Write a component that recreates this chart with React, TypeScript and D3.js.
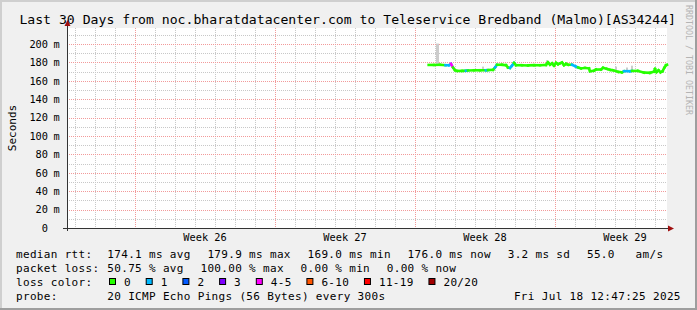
import React from 'react';
import * as d3 from 'd3';

const W = 697;
const H = 310;
const TITLE = 'Last 30 Days from noc.bharatdatacenter.com to Teleservice Bredband (Malmo)[AS34244]';
const Y_LABEL = 'Seconds';
const WATERMARK = 'RRDTOOL / TOBI OETIKER';

const yTicks = [0, 20, 40, 60, 80, 100, 120, 140, 160, 180, 200];
const yMinor = [10, 30, 50, 70, 90, 110, 130, 150, 170, 190, 210];
const Y_MAX = 217.4;

const START = Date.UTC(2025, 5, 19, 14, 24);
const END = START + 30 * 864e5;
const DATA_BASE = Date.UTC(2025, 6, 7, 0, 0);

// hours since 2025-07-07 00:00 UTC
const hours = [16.4, 22.8, 30.0, 36.6, 40.8, 43.2, 45.6, 48.0, 50.4, 56.4, 61.2, 63.6, 70.8, 78.0, 85.2, 87.6, 93.6, 96.0, 98.4, 104.4,
  109.2, 111.6, 114.0, 116.4, 118.8, 121.2, 128.4, 135.6, 142.8, 150.0, 157.2, 159.6, 162.0, 164.4, 166.8, 169.2, 171.6, 174.0, 176.4, 178.8,
  181.2, 183.6, 188.4, 193.2, 195.6, 199.2, 204.0, 208.8, 210.0, 214.8, 217.2, 223.2, 225.6, 230.4, 234.0, 237.6, 243.6, 248.4, 250.8, 258.0,
  260.4, 267.6, 274.8, 282.0, 286.8, 288.0, 289.8, 292.2, 294.6, 297.0, 299.4, 301.2, 302.4];
// median rtt, ms
const median = [177.8, 177.8, 178.0, 177.5, 177.5, 179.0, 175.0, 172.0, 171.3, 171.3, 171.5, 171.8, 172.0, 172.0, 172.0, 172.2, 172.5, 175.0, 178.0, 178.0,
  177.5, 175.0, 174.5, 177.0, 180.0, 177.5, 177.5, 177.3, 177.5, 177.5, 177.8, 180.5, 178.0, 179.5, 177.0, 180.0, 178.5, 179.5, 180.5, 177.5,
  179.0, 178.0, 178.0, 176.0, 175.0, 174.0, 174.5, 174.0, 171.0, 171.5, 172.8, 172.8, 174.6, 173.5, 172.5, 172.0, 170.3, 169.8, 171.0, 171.0,
  171.3, 171.3, 169.5, 169.2, 170.5, 173.5, 170.0, 172.0, 169.8, 171.0, 175.0, 177.5, 178.0];
// loss colour class per point
const loss = [0, 0, 0, 1, 1, 4, 0, 0, 0, 0, 1, 0, 0, 0, 1, 0, 0, 1, 0, 0,
  0, 0, 1, 1, 0, 0, 0, 0, 0, 0, 0, 0, 0, 0, 0, 0, 0, 0, 0, 0,
  0, 0, 1, 1, 0, 0, 0, 0, 0, 0, 0, 0, 0, 0, 0, 0, 0, 0, 1, 1,
  0, 0, 0, 0, 0, 0, 0, 0, 0, 0, 0, 0, 0];

// smoke (ping spread)
const smokeStart = [25.2, 80.4, 157.2, 240.0, 253.2, 259.2];
const smokeEnd = [28.8, 82.8, 159.6, 242.4, 255.6, 261.6];
const smokeLo = [178.0, 173.5, 178.0, 171.0, 171.5, 172.5];
const smokeHi = [201.0, 176.0, 183.0, 176.0, 175.0, 177.0];

const lossLabels = ['0', '1', '2', '3', '4-5', '6-10', '11-19', '20/20'];
const lossColors = ['#26ff00', '#00b8ff', '#0059ff', '#7e00ff', '#ff00ff', '#ff5500', '#ff0000', '#a10000'];

const rttItems = ['174.1 ms avg', '179.9 ms max', '169.0 ms min', '176.0 ms now', '3.2 ms sd', '55.0   am/s'];
const lossItems = ['50.75 % avg', '100.00 % max', '0.00 % min', '0.00 % now'];
const PROBE = '20 ICMP Echo Pings (56 Bytes) every 300s';
const DATE_STR = 'Fri Jul 18 12:47:25 2025';

const MONO = '"DejaVu Sans Mono", monospace';
const CW = 6.95;

export default function App() {
  const x = d3.scaleUtc().domain([new Date(START), new Date(END)]).range([67, 667]);
  const y = d3.scaleLinear().domain([0, Y_MAX]).range([228.5, 28.5]);
  const tAt = (h: number) => new Date(DATA_BASE + h * 3600e3);

  const days = d3.utcDay.range(new Date(START), new Date(END));
  const weeks = d3.utcMonday.range(new Date(START), new Date(END));
  const weekLabels = d3.utcMonday
    .range(new Date(START - 7 * 864e5), new Date(END))
    .map((d) => ({ d, mid: new Date(+d + 3.5 * 864e5) }))
    .filter((w) => x(w.mid) > 67 + 20 && x(w.mid) < 667 - 20);
  const fmtWeek = d3.utcFormat('%V');

  const pts = hours.map((h, i) => [x(tAt(h)), y(median[i])] as [number, number]);
  const seg = d3.line();

  const rowX = (items: string[]) => {
    const xs: number[] = [];
    let cx = 107.3;
    items.forEach((s) => {
      xs.push(cx);
      cx += s.length * CW + 16.7;
    });
    return xs;
  };
  const rttX = rowX(rttItems);
  const lossX = rowX(lossItems);

  const boxes: { bx: number; tx: number; label: string; color: string }[] = [];
  let bx = 109;
  lossLabels.forEach((l, i) => {
    const tx = bx + 15;
    boxes.push({ bx, tx, label: l, color: lossColors[i] });
    bx = tx + l.length * CW + 14.75;
  });

  const legendText = { fontFamily: MONO, fontSize: 11, letterSpacing: 0.33, fill: '#000' } as React.CSSProperties;

  return (
    <svg width={W} height={H} style={{ position: 'absolute', left: 0, top: 0 }} xmlns="http://www.w3.org/2000/svg">
      <rect x={0} y={0} width={W} height={H} fill="#f0f0f0" />
      <rect x={0} y={0} width={W} height={2} fill="#cfcfcf" />
      <rect x={0} y={0} width={2} height={H} fill="#cfcfcf" />
      <rect x={W - 2} y={0} width={2} height={H} fill="#9e9e9e" />
      <rect x={0} y={H - 2} width={W} height={2} fill="#9e9e9e" />

      <text x={347.7} y={23.5} textAnchor="middle" style={{ fontFamily: MONO, fontSize: 13.15, fill: '#000' }}>{TITLE}</text>

      <text transform={`translate(686,5) rotate(90)`} style={{ fontFamily: MONO, fontSize: 8.3, fill: '#b4b4b4' }}>{WATERMARK}</text>

      <rect x={67} y={28} width={600} height={200} fill="#ffffff" />

      {/* minor grid */}
      {days.map((d, i) => {
        const xx = Math.round(x(d)) + 0.5;
        return <line key={'dv' + i} x1={xx} x2={xx} y1={28} y2={228} stroke="#c8c8c8" strokeDasharray="1,1" />;
      })}
      {yMinor.concat(yTicks.filter((v) => v > 0)).map((v, i) => {
        const yy = Math.round(y(v) - 0.5) + 0.5;
        return <line key={'hm' + i} x1={67} x2={667} y1={yy} y2={yy} stroke="#c8c8c8" strokeDasharray="1,1" />;
      })}
      {/* major grid */}
      {weeks.map((d, i) => {
        const xx = Math.round(x(d)) + 0.5;
        return <line key={'wv' + i} x1={xx} x2={xx} y1={28} y2={228} stroke="#f29a9a" strokeDasharray="1,1" />;
      })}
      {yTicks.filter((v) => v > 0).map((v, i) => {
        const yy = Math.round(y(v) - 0.5) + 0.5;
        return <line key={'hM' + i} x1={67} x2={667} y1={yy} y2={yy} stroke="#f29a9a" strokeDasharray="1,1" />;
      })}

      {/* smoke */}
      {smokeStart.map((s, i) => (
        <rect key={'sm' + i} x={x(tAt(s))} y={y(smokeHi[i])} width={x(tAt(smokeEnd[i])) - x(tAt(s))}
          height={y(smokeLo[i]) - y(smokeHi[i])} fill="#cccccc" />
      ))}

      {/* median line coloured by loss */}
      {pts.slice(0, -1).map((p, i) => (
        <path key={'ln' + i} d={seg([p, pts[i + 1]]) || ''} stroke={lossColors[loss[i]]} strokeWidth={2.6} fill="none" strokeLinecap="square" />
      ))}

      {/* axes */}
      <line x1={67.5} x2={67.5} y1={231} y2={25} stroke="#333" />
      <line x1={63} x2={669} y1={228.5} y2={228.5} stroke="#333" />
      <path d="M67.5,20 L70.5,26 L64.5,26 Z" fill="#a01010" />
      <path d="M674,228.5 L668,225.5 L668,231.5 Z" fill="#a01010" />

      {/* y tick labels */}
      {yTicks.map((v, i) => (
        <g key={'yl' + i} style={{ fontFamily: MONO, fontSize: 10.3, fill: '#000' }}>
          <text x={48} y={y(v) + 3.2} textAnchor="end">{v}</text>
          {v > 0 && <text x={53.5} y={y(v) + 3.2}>m</text>}
        </g>
      ))}

      {/* week labels */}
      {weekLabels.map((w, i) => (
        <text key={'wl' + i} x={x(w.mid)} y={241.3} textAnchor="middle" style={{ fontFamily: MONO, fontSize: 10.3, fill: '#000' }}>
          {'Week ' + fmtWeek(w.d)}
        </text>
      ))}

      <text transform="translate(15.5,128) rotate(-90)" textAnchor="middle" style={{ fontFamily: MONO, fontSize: 11, fill: '#000' }}>{Y_LABEL}</text>

      {/* legend */}
      <g style={legendText}>
        <text x={16} y={258}>median rtt:</text>
        {rttItems.map((s, i) => (
          <text key={'r' + i} x={rttX[i]} y={258} xmlSpace="preserve" style={{ whiteSpace: 'pre' }}>{s}</text>
        ))}
        <text x={16} y={272}>packet loss:</text>
        {lossItems.map((s, i) => (
          <text key={'p' + i} x={lossX[i]} y={272}>{s}</text>
        ))}
        <text x={16} y={286}>loss color:</text>
        {boxes.map((b, i) => (
          <g key={'b' + i}>
            <rect x={b.bx + 0.5} y={278.5} width={6} height={6} fill={b.color} stroke="#000" strokeWidth={1} />
            <text x={b.tx} y={286}>{b.label}</text>
          </g>
        ))}
        <text x={16} y={300}>probe:</text>
        <text x={107.3} y={300}>{PROBE}</text>
        <text x={680.8} y={300} textAnchor="end">{DATE_STR}</text>
      </g>
    </svg>
  );
}
